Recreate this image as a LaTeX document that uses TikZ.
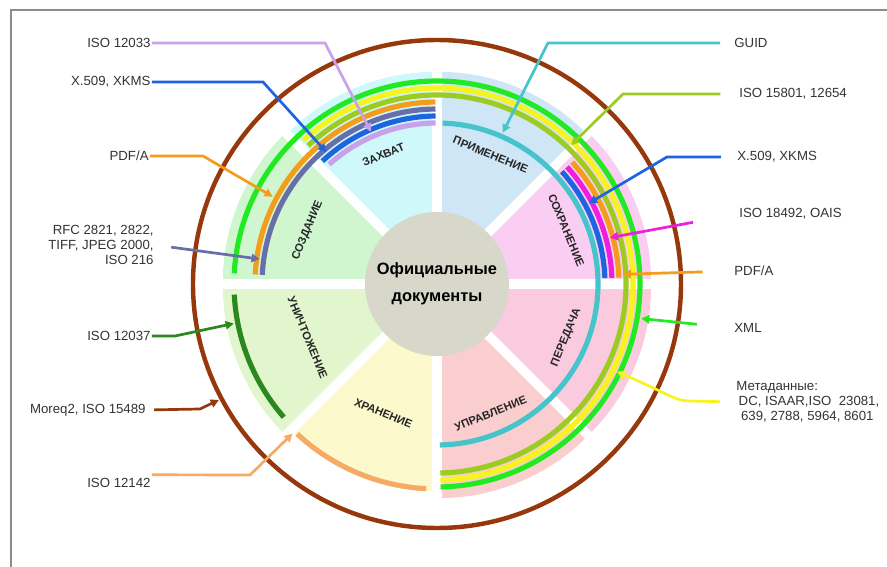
\documentclass[tikz,border=0pt]{standalone}
\usepackage{fontspec}
\setmainfont{Liberation Sans}
\usetikzlibrary{arrows.meta}

% sector colours
\definecolor{capcol}{RGB}{206,248,250}
\definecolor{usecol}{RGB}{206,230,246}
\definecolor{keepcol}{RGB}{250,206,242}
\definecolor{sendcol}{RGB}{250,202,222}
\definecolor{mgmtcol}{RGB}{250,206,206}
\definecolor{storecol}{RGB}{252,250,204}
\definecolor{killcol}{RGB}{226,246,206}
\definecolor{makecol}{RGB}{208,246,208}
\definecolor{hubcol}{RGB}{216,216,202}
% ring colours
\definecolor{ringgreen}{RGB}{34,234,34}
\definecolor{ringyellow}{RGB}{246,244,30}
\definecolor{ringolive}{RGB}{156,204,34}
\definecolor{ringorange}{RGB}{244,156,28}
\definecolor{ringslate}{RGB}{104,110,168}
\definecolor{ringblue}{RGB}{30,100,222}
\definecolor{ringlilac}{RGB}{200,160,236}
\definecolor{ringteal}{RGB}{70,196,204}
\definecolor{ringpink}{RGB}{238,30,222}
\definecolor{ringdkgreen}{RGB}{42,136,30}
\definecolor{ringpeach}{RGB}{246,170,100}
\definecolor{ringbrown}{RGB}{150,56,12}
\definecolor{framegray}{RGB}{140,140,140}

\begin{document}
\begin{tikzpicture}[x=0.03cm,y=0.03cm,
  ring/.style={line width=4.4pt},
  leader/.style={line width=2.3pt,-{Triangle[length=7pt,width=7pt]}},
  lbl/.style={font=\fontsize{11.3}{13}\selectfont,text=black!80,inner sep=1pt},
  seclbl/.style={font=\fontsize{9.6}{11}\selectfont\bfseries,text=black!85}]
\useasboundingbox (-437,-283) rectangle (450,284);

% frame
\draw[framegray,line width=1.6pt] (-426,-283) -- (-426,274) -- (450,274);

% sectors
\foreach \a/\col/\r in {0/keepcol/214, 45/usecol/212, 90/capcol/212, 135/makecol/214,
                        180/killcol/214, 225/storecol/207, 270/mgmtcol/214, 315/sendcol/214}
  \fill[\col,rounded corners=4pt] (0,0) -- (\a:\r) arc[start angle=\a,end angle=\a+45,radius=\r] -- cycle;

% white gaps between sectors
\foreach \a in {0,45,...,315}
  \draw[white,line width=8pt] (0,0) -- (\a:225);

% rings
\foreach \col/\r/\s/\e in {ringgreen/203/-89/177, ringyellow/196/-89/133, ringolive/189/-89/133,
                           ringorange/182/90.5/177, ringslate/175/90.5/177, ringblue/168/90.5/133,
                           ringlilac/161/90.5/132, ringteal/161/-89/88,
                           ringblue/168/2/42, ringpink/175/2/42, ringorange/182/2/42,
                           ringdkgreen/203/183/221, ringpeach/205/227/267}
  \draw[ring,\col] (\s:\r) arc[start angle=\s,end angle=\e,radius=\r];

% hub
\node[circle,fill=hubcol,minimum size=4.32cm,align=center,
      font=\fontsize{14}{23}\selectfont\bfseries] (hub) at (0,0) {Официальные\\документы};

% sector names
\foreach \m/\rot/\n/\t in {22.5/-67.5/keep/СОХРАНЕНИЕ, 67.5/-22.5/use/ПРИМЕНЕНИЕ,
                           112.5/22.5/cap/ЗАХВАТ, 157.5/67.5/make/СОЗДАНИЕ,
                           202.5/-67.5/kill/УНИЧТОЖЕНИЕ, 247.5/-22.5/store/ХРАНЕНИЕ,
                           292.5/22.5/mgmt/УПРАВЛЕНИЕ, 337.5/67.5/send/ПЕРЕДАЧА}
  \node[seclbl,rotate=\rot] (\n) at (\m:140) {\t};

% outer circle
\draw[ringbrown,line width=3.8pt] (0,0) circle[radius=244];

% left labels
\node[lbl,anchor=east] (l12033) at (-285,241) {ISO 12033};
\node[lbl,anchor=east] (lxkms) at (-285,202) {X.509, XKMS};
\node[lbl,anchor=east] (lpdfa) at (-287,128) {PDF/A};
\node[lbl,anchor=east,align=right] (lrfc) at (-282,39) {RFC 2821, 2822,\\TIFF, JPEG 2000,\\ISO 216};
\node[lbl,anchor=east] (l12037) at (-285,-52) {ISO 12037};
\node[lbl,anchor=east] (lmoreq) at (-290,-126) {Moreq2, ISO 15489};
\node[lbl,anchor=east] (l12142) at (-285,-199) {ISO 12142};

% right labels
\node[lbl,anchor=west] (rguid) at (296,241) {GUID};
\node[lbl,anchor=west] (r15801) at (301,190) {ISO 15801, 12654};
\node[lbl,anchor=west] (rxkms) at (299,127) {X.509, XKMS};
\node[lbl,anchor=west] (r18492) at (301,70) {ISO 18492, OAIS};
\node[lbl,anchor=west] (rpdfa) at (296,13) {PDF/A};
\node[lbl,anchor=west] (rxml) at (296,-44) {XML};
\node[lbl,anchor=west,align=left] (rmeta) at (298,-118)
  {Метаданные:\\\hspace{2pt}DC, ISAAR,ISO\ \ 23081,\\\hspace{4pt}639, 2788, 5964, 8601};

% arrow targets on the rings
\coordinate (tlilac) at (113.5:166);
\coordinate (tblueL) at (130:172);
\coordinate (torangeL) at (152:186);
\coordinate (tslate) at (172:179);
\coordinate (tdkgreen) at (191:207);
\coordinate (tbrown) at (208:247);
\coordinate (tpeach) at (226:208);
\coordinate (tteal) at (66.5:165);
\coordinate (tolive) at (46:193);
\coordinate (tblueR) at (28:172);
\coordinate (tpink) at (15:179);
\coordinate (torangeR) at (3:186);
\coordinate (tgreen) at (-9.6:207);
\coordinate (tyellow) at (-26:200);

% leader lines, left
\draw[leader,ringlilac] (l12033.east) -- (-112,241) -- (tlilac);
\draw[leader,ringblue] (lxkms.east) -- (-174,202) -- (tblueL);
\draw[leader,ringorange] (lpdfa.east) -- (-234,128) -- (torangeL);
\draw[leader,ringslate,shorten <=14pt] (lrfc.east) -- (tslate);
\draw[leader,ringdkgreen] (l12037.east) -- (-262,-52) -- (tdkgreen);
\draw[leader,ringbrown,shorten <=6pt] (lmoreq.east) -- (-237,-125) -- (tbrown);
\draw[leader,ringpeach] ([yshift=7pt]l12142.east) -- (-187,-191) -- (tpeach);

% leader lines, right
\draw[leader,ringteal,shorten <=11pt] (rguid.west) -- (111,241) -- (tteal);
\draw[leader,ringolive,shorten <=15pt] (r15801.west) -- (186,190) -- (tolive);
\draw[leader,ringblue,shorten <=13pt] (rxkms.west) -- (230,127) -- (tblueR);
\draw[leader,ringpink,shorten <=39pt] (r18492.west) -- (tpink);
\draw[leader,ringorange,shorten <=26pt] (rpdfa.west) -- (torangeR);
\draw[leader,ringgreen,shorten <=31pt] (rxml.west) -- (tgreen);
\draw[leader,ringyellow,shorten <=13pt] (rmeta.west) -- (253,-117)
  .. controls (238,-117) and (232,-110) .. (tyellow);

\end{tikzpicture}
\end{document}
